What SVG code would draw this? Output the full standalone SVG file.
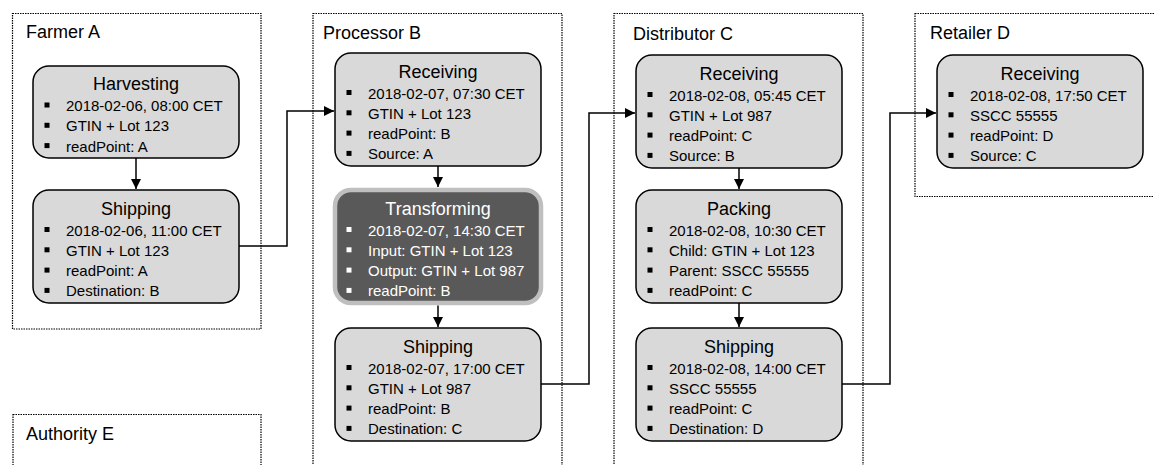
<svg xmlns="http://www.w3.org/2000/svg" width="1154" height="465" viewBox="0 0 1154 465">
<style>
.bg{fill:#ffffff}
.cont{fill:none;stroke:#000;stroke-width:1.2;stroke-dasharray:1.5 1}
.clabel{font-family:"Liberation Sans",Arial,sans-serif;font-size:18px;fill:#000}
.box{fill:#d9d9d9;stroke:#000;stroke-width:1.5}
.dark{fill:#595959;stroke:#bfbfbf;stroke-width:4.5}
.title{font-family:"Liberation Sans",Arial,sans-serif;font-size:18px;fill:#000;text-anchor:middle}
.row{font-family:"Liberation Sans",Arial,sans-serif;font-size:15px;fill:#000}
.w{fill:#ffffff}
.bul{fill:#000}
.bulw{fill:#ffffff}
.conn{fill:none;stroke:#000;stroke-width:1.5}
</style>
<defs>
<marker id="arr" markerUnits="userSpaceOnUse" markerWidth="11" markerHeight="10" refX="10" refY="5" orient="auto">
<path d="M0,0 L10,5 L0,10 Z" fill="#000"/>
</marker>
</defs>
<rect class="bg" x="0" y="0" width="1154" height="465"/>

<g id="farmer-a">
<rect class="cont" x="12.5" y="13.5" width="248.5" height="315.5"/>
<text class="clabel" x="26" y="38">Farmer A</text>
</g>
<g id="authority-e">
<rect class="cont" x="13" y="414.5" width="248" height="60"/>
<text class="clabel" x="26" y="440">Authority E</text>
</g>
<g id="processor-b">
<rect class="cont" x="313" y="13.5" width="249" height="470"/>
<text class="clabel" x="323" y="39">Processor B</text>
</g>
<g id="distributor-c">
<rect class="cont" x="614" y="13.5" width="249" height="470"/>
<text class="clabel" x="633" y="40">Distributor C</text>
</g>
<g id="retailer-d">
<rect class="cont" x="915" y="13.5" width="260" height="183"/>
<text class="clabel" x="930" y="39">Retailer D</text>
</g>

<g id="a-harvesting">
<rect class="box" x="33" y="66" width="206" height="92" rx="16"/>
<text class="title" x="136" y="90">Harvesting</text>
<rect class="bul" x="44.5" y="102.5" width="5" height="5"/><text class="row" x="66" y="111">2018-02-06, 08:00 CET</text>
<rect class="bul" x="44.5" y="122.8" width="5" height="5"/><text class="row" x="66" y="131.3">GTIN + Lot 123</text>
<rect class="bul" x="44.5" y="143.1" width="5" height="5"/><text class="row" x="66" y="151.6">readPoint: A</text>
</g>

<g id="a-shipping">
<rect class="box" x="33" y="190" width="206" height="113" rx="16"/>
<text class="title" x="136" y="214.5">Shipping</text>
<rect class="bul" x="44.5" y="227" width="5" height="5"/><text class="row" x="66" y="235.5">2018-02-06, 11:00 CET</text>
<rect class="bul" x="44.5" y="247.3" width="5" height="5"/><text class="row" x="66" y="255.8">GTIN + Lot 123</text>
<rect class="bul" x="44.5" y="267.6" width="5" height="5"/><text class="row" x="66" y="276.1">readPoint: A</text>
<rect class="bul" x="44.5" y="287.9" width="5" height="5"/><text class="row" x="66" y="296.4">Destination: B</text>
</g>

<g id="b-receiving">
<rect class="box" x="335" y="53" width="206" height="113" rx="16"/>
<text class="title" x="438" y="77.5">Receiving</text>
<rect class="bul" x="346.5" y="90" width="5" height="5"/><text class="row" x="368" y="98.5">2018-02-07, 07:30 CET</text>
<rect class="bul" x="346.5" y="110.3" width="5" height="5"/><text class="row" x="368" y="118.8">GTIN + Lot 123</text>
<rect class="bul" x="346.5" y="130.6" width="5" height="5"/><text class="row" x="368" y="139.1">readPoint: B</text>
<rect class="bul" x="346.5" y="150.9" width="5" height="5"/><text class="row" x="368" y="159.4">Source: A</text>
</g>

<g id="b-transforming">
<rect class="dark" x="335" y="190" width="206" height="113" rx="16"/>
<text class="title w" x="438" y="214.5">Transforming</text>
<rect class="bulw" x="346.5" y="227" width="5" height="5"/><text class="row w" x="368" y="235.5">2018-02-07, 14:30 CET</text>
<rect class="bulw" x="346.5" y="247.3" width="5" height="5"/><text class="row w" x="368" y="255.8">Input: GTIN + Lot 123</text>
<rect class="bulw" x="346.5" y="267.6" width="5" height="5"/><text class="row w" x="368" y="276.1">Output: GTIN + Lot 987</text>
<rect class="bulw" x="346.5" y="287.9" width="5" height="5"/><text class="row w" x="368" y="296.4">readPoint: B</text>
</g>

<g id="b-shipping">
<rect class="box" x="335" y="328" width="206" height="113" rx="16"/>
<text class="title" x="438" y="352.5">Shipping</text>
<rect class="bul" x="346.5" y="365" width="5" height="5"/><text class="row" x="368" y="373.5">2018-02-07, 17:00 CET</text>
<rect class="bul" x="346.5" y="385.3" width="5" height="5"/><text class="row" x="368" y="393.8">GTIN + Lot 987</text>
<rect class="bul" x="346.5" y="405.6" width="5" height="5"/><text class="row" x="368" y="414.1">readPoint: B</text>
<rect class="bul" x="346.5" y="425.9" width="5" height="5"/><text class="row" x="368" y="434.4">Destination: C</text>
</g>

<g id="c-receiving">
<rect class="box" x="636" y="55" width="206" height="113" rx="16"/>
<text class="title" x="739" y="79.5">Receiving</text>
<rect class="bul" x="647.5" y="92" width="5" height="5"/><text class="row" x="669" y="100.5">2018-02-08, 05:45 CET</text>
<rect class="bul" x="647.5" y="112.3" width="5" height="5"/><text class="row" x="669" y="120.8">GTIN + Lot 987</text>
<rect class="bul" x="647.5" y="132.6" width="5" height="5"/><text class="row" x="669" y="141.1">readPoint: C</text>
<rect class="bul" x="647.5" y="152.9" width="5" height="5"/><text class="row" x="669" y="161.4">Source: B</text>
</g>

<g id="c-packing">
<rect class="box" x="636" y="190" width="206" height="113" rx="16"/>
<text class="title" x="739" y="214.5">Packing</text>
<rect class="bul" x="647.5" y="227" width="5" height="5"/><text class="row" x="669" y="235.5">2018-02-08, 10:30 CET</text>
<rect class="bul" x="647.5" y="247.3" width="5" height="5"/><text class="row" x="669" y="255.8">Child: GTIN + Lot 123</text>
<rect class="bul" x="647.5" y="267.6" width="5" height="5"/><text class="row" x="669" y="276.1">Parent: SSCC 55555</text>
<rect class="bul" x="647.5" y="287.9" width="5" height="5"/><text class="row" x="669" y="296.4">readPoint: C</text>
</g>

<g id="c-shipping">
<rect class="box" x="636" y="328" width="206" height="113" rx="16"/>
<text class="title" x="739" y="352.5">Shipping</text>
<rect class="bul" x="647.5" y="365" width="5" height="5"/><text class="row" x="669" y="373.5">2018-02-08, 14:00 CET</text>
<rect class="bul" x="647.5" y="385.3" width="5" height="5"/><text class="row" x="669" y="393.8">SSCC 55555</text>
<rect class="bul" x="647.5" y="405.6" width="5" height="5"/><text class="row" x="669" y="414.1">readPoint: C</text>
<rect class="bul" x="647.5" y="425.9" width="5" height="5"/><text class="row" x="669" y="434.4">Destination: D</text>
</g>

<g id="d-receiving">
<rect class="box" x="937" y="55" width="206" height="113" rx="16"/>
<text class="title" x="1040" y="79.5">Receiving</text>
<rect class="bul" x="948.5" y="92" width="5" height="5"/><text class="row" x="970" y="100.5">2018-02-08, 17:50 CET</text>
<rect class="bul" x="948.5" y="112.3" width="5" height="5"/><text class="row" x="970" y="120.8">SSCC 55555</text>
<rect class="bul" x="948.5" y="132.6" width="5" height="5"/><text class="row" x="970" y="141.1">readPoint: D</text>
<rect class="bul" x="948.5" y="152.9" width="5" height="5"/><text class="row" x="970" y="161.4">Source: C</text>
</g>

<g id="connectors">
<path class="conn" d="M136,158 V189" marker-end="url(#arr)"/>
<path class="conn" d="M239,246 H287 V111 H334" marker-end="url(#arr)"/>
<path class="conn" d="M438,166 V187" marker-end="url(#arr)"/>
<path class="conn" d="M438,305.5 V327" marker-end="url(#arr)"/>
<path class="conn" d="M541,384 H589 V113 H635" marker-end="url(#arr)"/>
<path class="conn" d="M739,168 V189" marker-end="url(#arr)"/>
<path class="conn" d="M739,303 V327" marker-end="url(#arr)"/>
<path class="conn" d="M842,384 H890 V113 H936" marker-end="url(#arr)"/>
</g>
</svg>
